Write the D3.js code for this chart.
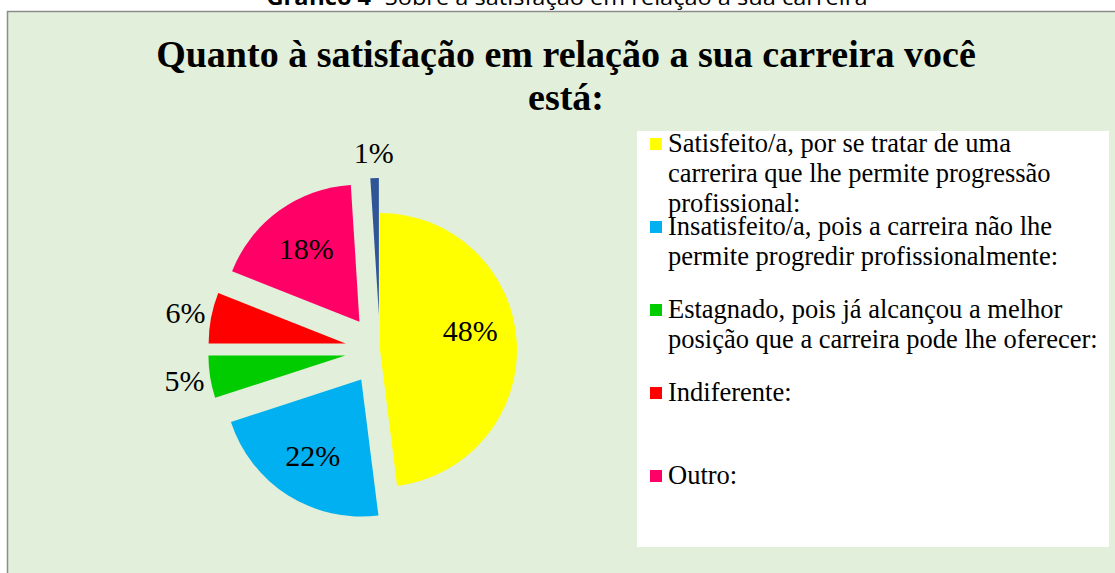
<!DOCTYPE html>
<html>
<head>
<meta charset="utf-8">
<script src="https://cdn.jsdelivr.net/npm/d3@7"></script>
<style>
  html, body { margin: 0; padding: 0; background: #fff; }
  svg { display: block; }
</style>
</head>
<body>
<div id="chart"></div>
<script>
// data
const categories = [
  "Satisfeito/a, por se tratar de uma carrerira que lhe permite progressão profissional:",
  "Insatisfeito/a, pois a carreira não lhe permite progredir profissionalmente:",
  "Estagnado, pois já alcançou a melhor posição que a carreira pode lhe oferecer:",
  "Indiferente:",
  "Outro:",
  ""
];
const values = [48, 22, 5, 6, 18, 1];
const colors = ["#FFFF00", "#00B0F0", "#00CC00", "#FF0000", "#FF0066", "#2F5597"];
// legend text as it wraps in the picture (last category is not in the legend)
const legendLines = [
  ["Satisfeito/a, por se tratar de uma", "carrerira que lhe permite progressão", "profissional:"],
  ["Insatisfeito/a, pois a carreira não lhe", "permite progredir profissionalmente:"],
  ["Estagnado, pois já alcançou a melhor", "posição que a carreira pode lhe oferecer:"],
  ["Indiferente:"],
  ["Outro:"]
];
const titleLines = ["Quanto à satisfação em relação a sua carreira você", "está:"];

const width = 1115, height = 573;
const serif = "'Liberation Serif', 'Times New Roman', serif";

const svg = d3.select("#chart")
  .append("svg")
  .attr("width", width)
  .attr("height", height);

// caption above the chart (mostly cut off at the top)
const cap = svg.append("text")
  .attr("x", 567)
  .attr("y", 5)
  .attr("text-anchor", "middle")
  .attr("textLength", 601)
  .attr("lengthAdjust", "spacingAndGlyphs")
  .style("font-family", "'Open Sans', 'Noto Sans', sans-serif")
  .style("font-size", "21px")
  .attr("fill", "#000");
cap.append("tspan").style("font-weight", "bold").text("Gráfico 4");
cap.append("tspan").text("- Sobre a satisfação em relação a sua carreira");

// chart area
svg.append("rect")
  .attr("x", 7.5)
  .attr("y", 11.5)
  .attr("width", 1130)
  .attr("height", 600)
  .attr("fill", "#E2EFDA")
  .attr("stroke", "#8c8c8c")
  .attr("stroke-width", 1.5);

// title
svg.append("g")
  .selectAll("text")
  .data(titleLines)
  .enter()
  .append("text")
  .attr("x", 566)
  .attr("y", (d, i) => 67 + i * 43)
  .attr("text-anchor", "middle")
  .style("font-family", serif)
  .style("font-weight", "bold")
  .style("font-size", "38px")
  .text(d => d);

// pie
const cx = 380, cy = 350, r = 137, explode = 35;
const pie = d3.pie().sort(null).startAngle(0).endAngle(2 * Math.PI);
const arcs = pie(values);
const arc = d3.arc().innerRadius(0).outerRadius(r);

const offset = (d, i) => {
  const e = i === 0 ? 0 : explode;
  const a = (d.startAngle + d.endAngle) / 2;
  return [Math.sin(a) * e, -Math.cos(a) * e];
};

const slices = svg.append("g")
  .attr("transform", "translate(" + cx + "," + cy + ")");

slices.selectAll("path")
  .data(arcs)
  .enter()
  .append("path")
  .attr("transform", (d, i) => "translate(" + offset(d, i) + ")")
  .attr("d", arc)
  .attr("fill", (d, i) => colors[i]);

// labels: inside for large slices, outside for small ones
const inArc = d3.arc().innerRadius(r * 0.66).outerRadius(r * 0.66);
const outArc = d3.arc().innerRadius(r * 1.19).outerRadius(r * 1.19);

slices.selectAll("text")
  .data(arcs)
  .enter()
  .append("text")
  .attr("transform", (d, i) => {
    const o = offset(d, i);
    const c = d.value >= 10 ? inArc.centroid(d) : outArc.centroid(d);
    // the big slice's label sits a little above its centroid in the picture
    const lift = i === 0 ? -14 : 0;
    return "translate(" + (c[0] + o[0]) + "," + (c[1] + o[1] + lift) + ")";
  })
  .attr("dy", "0.35em")
  .attr("text-anchor", "middle")
  .style("font-family", serif)
  .style("font-size", "30px")
  .attr("fill", "#000")
  .text(d => d.value + "%");

// legend
svg.append("rect")
  .attr("x", 637)
  .attr("y", 131)
  .attr("width", 472)
  .attr("height", 416)
  .attr("fill", "#fff");

const legend = svg.append("g")
  .attr("transform", "translate(650, 152)");

const items = legend.selectAll("g")
  .data(legendLines)
  .enter()
  .append("g")
  .attr("transform", (d, i) => "translate(0," + (i * 83) + ")");

items.append("rect")
  .attr("x", 0)
  .attr("y", -14)
  .attr("width", 12)
  .attr("height", 12)
  .attr("fill", (d, i) => colors[i]);

items.append("text")
  .style("font-family", serif)
  .style("font-size", "26.5px")
  .attr("fill", "#000")
  .selectAll("tspan")
  .data(d => d)
  .enter()
  .append("tspan")
  .attr("x", 18)
  .attr("y", (d, i) => i * 30)
  .text(d => d);
</script>
</body>
</html>
